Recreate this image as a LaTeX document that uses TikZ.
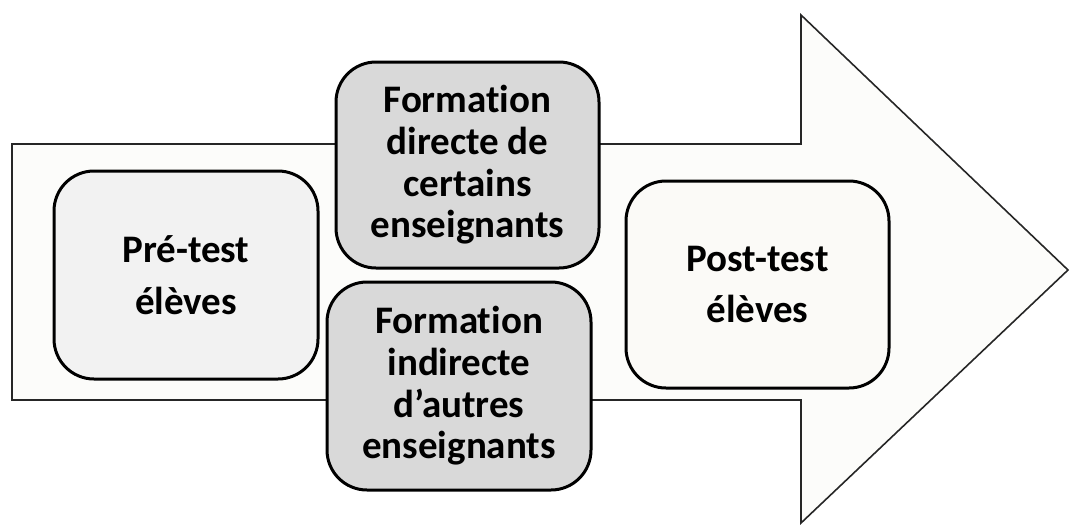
\documentclass[tikz,border=0pt]{standalone}
\usepackage{fontspec}
\setmainfont[Ligatures={NoCommon}]{Carlito}
\usepackage{tikz}
\usetikzlibrary{calc}
\usepackage{color}
\definecolor{fondfleche}{HTML}{FCFCFA}
\definecolor{grisclair}{HTML}{F2F2F2}
\definecolor{grisfonce}{HTML}{D9D9D9}
\definecolor{blanccasse}{HTML}{FBFAF7}

\begin{document}
\begin{tikzpicture}[x=1pt,y=-1pt,
	boite/.style={draw=black,line width=3pt,rounded corners=40pt,align=center,inner sep=0pt,
		font=\fontsize{39}{41.7}\selectfont\bfseries}]
%					Cadre de l'image :
					\useasboundingbox (0,0) rectangle (1070,530);
%					Tracé de la flèche :
					\draw[fill=fondfleche,draw=black!85,line width=1.6pt] (12,144) -- (801,144) -- (801,15) -- (1068,270)
						-- (801,523) -- (801,400) -- (12,400) -- cycle;
%					Les étapes :
					\node[boite,fill=grisclair,minimum width=264pt,minimum height=208pt] (pretest) at (186,275)
						{Pré-test\\[10pt]élèves};
					\node[boite,fill=grisfonce,minimum width=263pt,minimum height=206pt] (directe) at (467.5,165)
						{Formation\\directe de\\certains\\enseignants};
					\node[boite,fill=grisfonce,minimum width=264pt,minimum height=208pt] (indirecte) at (459,386)
						{Formation\\indirecte\\d’autres\\enseignants};
					\node[boite,fill=blanccasse,minimum width=263pt,minimum height=207pt] (posttest) at (757.5,284.5)
						{Post-test\\[10pt]élèves};
				\end{tikzpicture}
\end{document}
